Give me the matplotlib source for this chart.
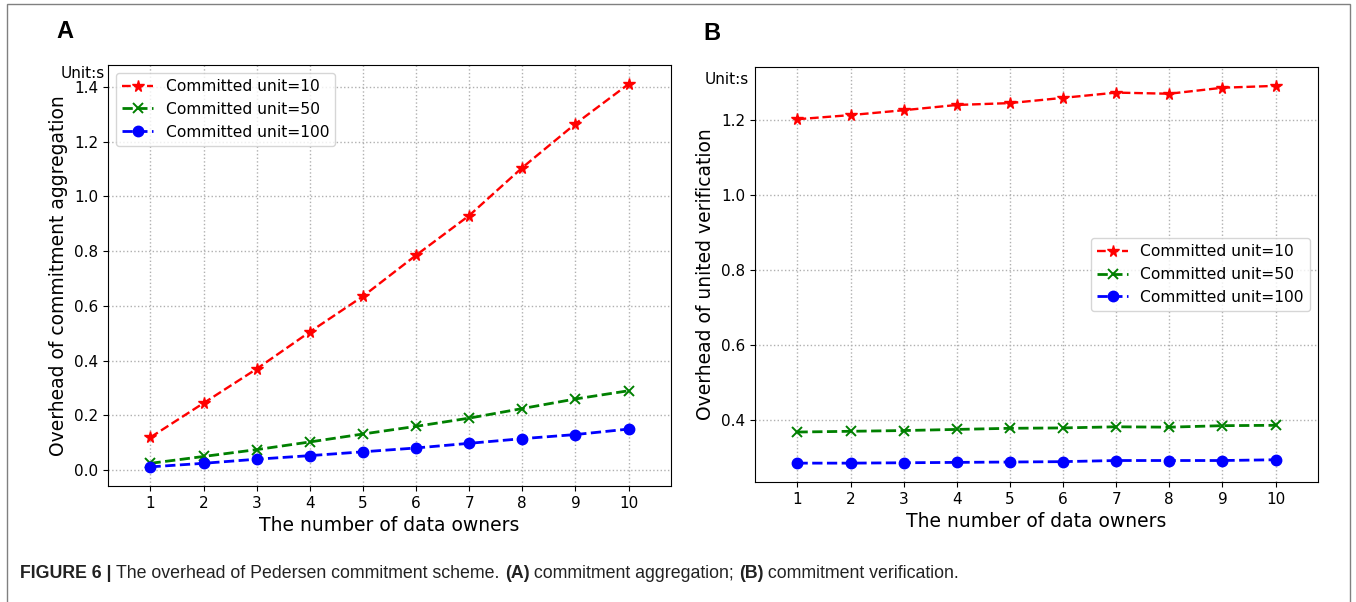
import numpy as np
import matplotlib
matplotlib.use("Agg")
import matplotlib.pyplot as plt
from matplotlib.patches import Rectangle

# data owners on x axis
owners = [1, 2, 3, 4, 5, 6, 7, 8, 9, 10]
series_labels = ["Committed unit=10", "Committed unit=50", "Committed unit=100"]

# (A) commitment aggregation, seconds
agg_10 = [0.12, 0.245, 0.37, 0.505, 0.635, 0.785, 0.93, 1.105, 1.265, 1.41]
agg_50 = [0.025, 0.05, 0.075, 0.103, 0.132, 0.16, 0.19, 0.225, 0.26, 0.29]
agg_100 = [0.012, 0.025, 0.04, 0.053, 0.067, 0.081, 0.098, 0.115, 0.13, 0.15]

# (B) united verification, seconds
ver_10 = [1.203, 1.214, 1.227, 1.241, 1.246, 1.26, 1.274, 1.271, 1.287, 1.292]
ver_50 = [0.368, 0.370, 0.372, 0.375, 0.378, 0.379, 0.382, 0.381, 0.385, 0.386]
ver_100 = [0.285, 0.285, 0.286, 0.287, 0.288, 0.289, 0.292, 0.292, 0.292, 0.294]

W, H = 1356, 602
fig = plt.figure(figsize=(W / 100, H / 100), dpi=100)

styles = [
	dict(color="red", linestyle="--", marker="*", markersize=8.5, lw=1.7),
	dict(color="green", linestyle="--", marker="x", markersize=7, mew=1.4, lw=2.0),
	dict(color="blue", linestyle="--", marker="o", markersize=7.5, lw=2.0),
]

def panel(rect, data, ylabel, legend_loc):
	ax = fig.add_axes(rect)
	for ys, lab, st in zip(data, series_labels, styles):
		ax.plot(owners, ys, label=lab, **st)
	ax.set_xlim(0.2, 10.8)
	ax.set_xticks(owners)
	ax.tick_params(labelsize=11)
	ax.grid(True, linestyle=":", color="#b0b0b0", lw=1.0)
	ax.set_xlabel("The number of data owners", fontsize=13.5)
	ax.set_ylabel(ylabel, fontsize=13.5)
	ax.legend(loc=legend_loc, fontsize=11.2)
	return ax

axA = panel([108 / W, 1 - 486 / H, 563 / W, 421 / H],
	[agg_10, agg_50, agg_100], "Overhead of commitment aggregation", "upper left")
axB = panel([755 / W, 1 - 482 / H, 563 / W, 415 / H],
	[ver_10, ver_50, ver_100], "Overhead of united verification", "center right")
axA.set_yticks(np.arange(0, 1.41, 0.2))
axB.set_yticks(np.arange(0.4, 1.21, 0.2))

fig.text(105 / W, 1 - 73 / H, "Unit:s", ha="right", va="center", fontsize=11)
fig.text(749 / W, 1 - 79 / H, "Unit:s", ha="right", va="center", fontsize=11)

fig.text(65 / W, 1 - 32 / H, "A", ha="center", va="center", fontsize=17,
	fontweight="bold", family="Liberation Sans")
fig.text(712 / W, 1 - 33 / H, "B", ha="center", va="center", fontsize=17,
	fontweight="bold", family="Liberation Sans")

# outer frame
fig.patches.append(Rectangle((7 / W, -0.01), (1350 - 7) / W, 1.01 - 4 / H,
	transform=fig.transFigure, fill=False, edgecolor="#808080", lw=1.0))

# caption, bold and regular pieces placed one after another
parts = [
	("FIGURE 6 | ", "bold"),
	("The overhead of Pedersen commitment scheme. ", "normal"),
	("(A)", "bold"),
	(" commitment aggregation; ", "normal"),
	("(B)", "bold"),
	(" commitment verification.", "normal"),
]
renderer = fig.canvas.get_renderer()
x = 20 / W
for s, wt in parts:
	t = fig.text(x, 1 - 573 / H, s, ha="left", va="center", fontsize=12.8,
		fontweight=wt, family="Liberation Sans", color="#222222")
	bb = t.get_window_extent(renderer=renderer)
	x += bb.width / W

plt.savefig("out.png", dpi=100)
